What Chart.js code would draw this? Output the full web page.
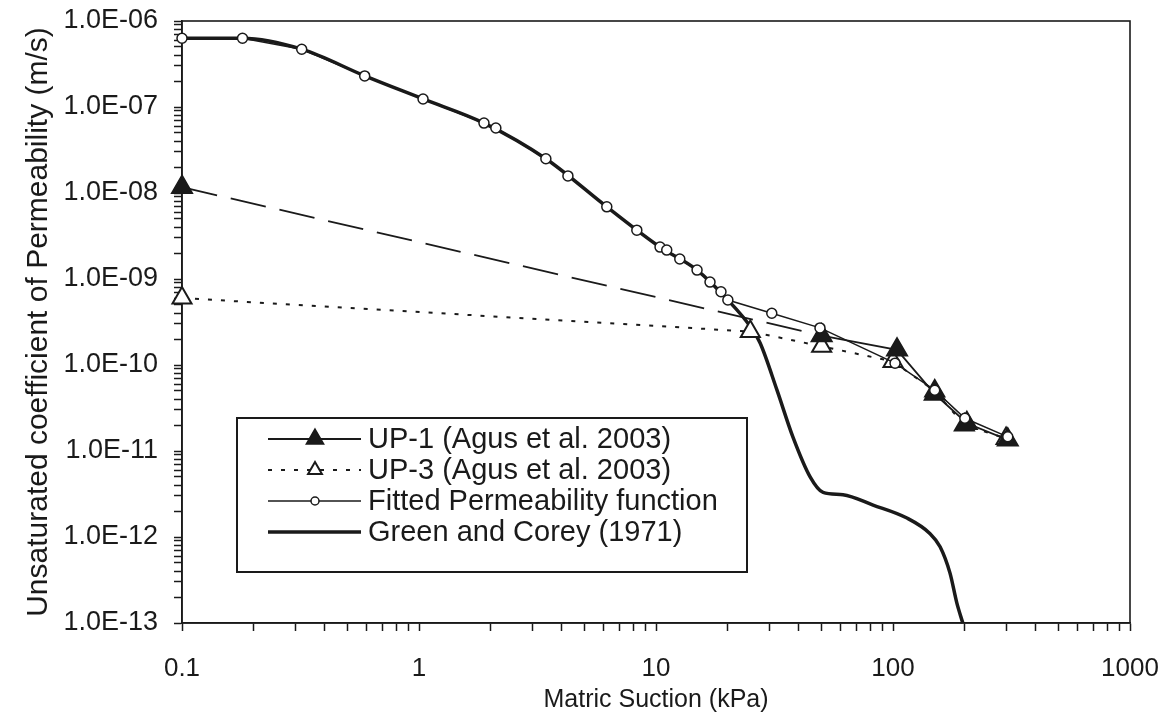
<!DOCTYPE html>
<html lang="en">
<head>
<meta charset="UTF-8">
<title>Unsaturated coefficient of permeability</title>
<script src="https://cdn.jsdelivr.net/npm/chart.js@4.4.0/dist/chart.umd.min.js"></script>
<style>
    body { margin: 0; background: #fff; }
    #wrap { width: 1169px; height: 720px; }
</style>
</head>
<body>
<div id="wrap"><canvas id="myChart"></canvas></div>
<script>
// values: suction in kPa, permeability in m/s
let up1Suction = [0.1, 50, 104, 150, 205, 305]
let up1Perm = [1.17e-8, 2.2e-10, 1.5e-10, 4.6e-11, 2.1e-11, 1.35e-11]

let up3Suction = [0.1, 25, 50, 100, 150, 200, 300]
let up3Perm = [6.0e-10, 2.45e-10, 1.65e-10, 1.1e-10, 5.0e-11, 2.0e-11, 1.4e-11]

let fitSuction = [0.1, 0.18, 0.32, 0.59, 1.04, 1.88, 2.11, 3.43, 4.25, 6.2, 8.3, 10.4, 11.1, 12.6, 14.9, 16.9, 18.8, 20.1, 30.8, 49.2, 102, 150, 201, 305]
let fitPerm = [6.3e-7, 6.3e-7, 4.7e-7, 2.3e-7, 1.24e-7, 6.5e-8, 5.7e-8, 2.5e-8, 1.58e-8, 6.9e-9, 3.7e-9, 2.35e-9, 2.17e-9, 1.71e-9, 1.27e-9, 9.2e-10, 7.1e-10, 5.7e-10, 4.0e-10, 2.7e-10, 1.05e-10, 5.1e-11, 2.4e-11, 1.46e-11]

let gcSuction = [0.1, 0.18, 0.32, 0.59, 1.04, 1.88, 3.43, 6.2, 10.4, 14.9, 20.1, 25, 27.5, 32.4, 37.8, 44.7, 50.7, 61.5, 82.4, 114.5, 143, 158, 174, 186, 197]
let gcPerm = [6.3e-7, 6.3e-7, 4.7e-7, 2.3e-7, 1.24e-7, 6.5e-8, 2.5e-8, 6.9e-9, 2.35e-9, 1.27e-9, 5.7e-10, 2.8e-10, 1.8e-10, 5.1e-11, 1.46e-11, 5.0e-12, 3.3e-12, 3.1e-12, 2.35e-12, 1.66e-12, 1.1e-12, 7.7e-13, 3.8e-13, 1.7e-13, 1.0e-13]

let xTickLabels = ['0.1', '1', '10', '100', '1000']
let yTickLabels = ['1.0E-13', '1.0E-12', '1.0E-11', '1.0E-10', '1.0E-09', '1.0E-08', '1.0E-07', '1.0E-06']

const ink = '#1a1a1a'
const fontFamily = '"Liberation Sans", Arial, sans-serif'

function pairs(xs, ys) {
    return xs.map((x, i) => ({ x: x, y: ys[i] }))
}

// 1..9 x 10^n ticks for every decade between min and max
function logTicks(min, max) {
    let ticks = []
    for (let e = Math.round(Math.log10(min)); e < Math.round(Math.log10(max)); e++) {
        for (let k = 1; k <= 9; k++) {
            ticks.push({ value: Number((k * Math.pow(10, e)).toPrecision(10)) })
        }
    }
    ticks.push({ value: max })
    return ticks
}

function decadeLabel(labels, min) {
    return function (value) {
        let lg = Math.log10(value)
        if (Math.abs(lg - Math.round(lg)) > 1e-6) return ''
        return labels[Math.round(lg) - Math.round(Math.log10(min))]
    }
}

function drawMarker(ctx, style, x, y, r) {
    ctx.beginPath()
    if (style === 'triangle') {
        ctx.moveTo(x, y - r)
        ctx.lineTo(x + r * 0.866, y + r * 0.5)
        ctx.lineTo(x - r * 0.866, y + r * 0.5)
        ctx.closePath()
    } else {
        ctx.arc(x, y, r, 0, Math.PI * 2)
    }
    ctx.fill()
    ctx.stroke()
}

const frame = {
    id: 'frame',
    beforeDatasetsDraw(chart) {
        let { ctx, chartArea: a } = chart
        ctx.save()
        ctx.strokeStyle = ink
        ctx.lineWidth = 1.6
        ctx.strokeRect(a.left, a.top, a.right - a.left, a.bottom - a.top)
        ctx.restore()
    }
}

// legend box inside the plot: line sample, marker, label
const boxLegend = {
    id: 'boxLegend',
    afterDraw(chart) {
        let ctx = chart.ctx
        ctx.save()
        ctx.fillStyle = '#fff'
        ctx.fillRect(237, 418, 510, 154)
        ctx.strokeStyle = ink
        ctx.lineWidth = 2
        ctx.strokeRect(237, 418, 510, 154)
        ctx.font = '29px ' + fontFamily
        ctx.textBaseline = 'middle'
        chart.data.datasets.forEach((ds, i) => {
            let y = 439 + i * 31
            ctx.strokeStyle = ink
            ctx.lineWidth = ds.legendWidth
            ctx.setLineDash(ds.borderDash || [])
            ctx.beginPath()
            ctx.moveTo(268, y)
            ctx.lineTo(361, y)
            ctx.stroke()
            ctx.setLineDash([])
            if (ds.pointRadius > 0) {
                ctx.fillStyle = ds.pointBackgroundColor
                ctx.strokeStyle = ds.pointBorderColor
                ctx.lineWidth = ds.pointBorderWidth
                drawMarker(ctx, ds.pointStyle, 315, y, ds.legendRadius)
            }
            ctx.fillStyle = ink
            ctx.fillText(ds.label, 368, y + 1)
        })
        ctx.restore()
    }
}

let ctx = document.getElementById('myChart').getContext('2d')
let chart = new Chart(ctx, {
    type: 'line',
    data: {
        datasets: [{
            label: 'UP-1 (Agus et al. 2003)',
            data: pairs(up1Suction, up1Perm),
            borderColor: ink,
            borderWidth: 1.8,
            segment: { borderDash: c => c.p0DataIndex === 0 ? [36, 14] : undefined },
            pointStyle: 'triangle',
            pointRadius: 12,
            pointBackgroundColor: ink,
            pointBorderColor: ink,
            pointBorderWidth: 1.5,
            legendRadius: 10,
            legendWidth: 1.8,
            order: 1,
            clip: false
        }, {
            label: 'UP-3 (Agus et al. 2003)',
            data: pairs(up3Suction, up3Perm),
            borderColor: ink,
            borderWidth: 2,
            borderDash: [4, 9],
            pointStyle: 'triangle',
            pointRadius: 11,
            pointBackgroundColor: '#fff',
            pointBorderColor: ink,
            pointBorderWidth: 2,
            legendRadius: 8,
            legendWidth: 1.8,
            order: 2,
            clip: false
        }, {
            label: 'Fitted Permeability function',
            data: pairs(fitSuction, fitPerm),
            borderColor: ink,
            borderWidth: 1.5,
            pointStyle: 'circle',
            pointRadius: 5,
            pointBackgroundColor: '#fff',
            pointBorderColor: ink,
            pointBorderWidth: 1.5,
            legendRadius: 4,
            legendWidth: 1.5,
            order: 0,
            clip: false
        }, {
            label: 'Green and Corey (1971)',
            data: pairs(gcSuction, gcPerm),
            borderColor: ink,
            borderWidth: 3.5,
            cubicInterpolationMode: 'monotone',
            pointRadius: 0,
            legendWidth: 3.5,
            order: 3,
            clip: false
        }]
    },
    options: {
        responsive: true,
        maintainAspectRatio: false,
        animation: false,
        layout: { padding: { top: 21, right: 39, left: 0, bottom: 0 } },
        plugins: {
            legend: { display: false },
            tooltip: { enabled: false }
        },
        scales: {
            x: {
                type: 'logarithmic',
                min: 0.1,
                max: 1000,
                afterBuildTicks: axis => { axis.ticks = logTicks(0.1, 1000) },
                afterFit: axis => {
                    axis.height = 97
                    axis.paddingLeft = 0
                    axis.paddingRight = 0
                },
                grid: { drawOnChartArea: false, drawTicks: true, tickLength: 8, color: ink, tickWidth: 1.5 },
                border: { display: true, color: ink, width: 1.6 },
                ticks: {
                    autoSkip: false,
                    maxRotation: 0,
                    padding: 22,
                    color: ink,
                    font: { family: fontFamily, size: 26 },
                    callback: decadeLabel(xTickLabels, 0.1)
                },
                title: {
                    display: true,
                    text: 'Matric Suction (kPa)',
                    color: ink,
                    font: { family: fontFamily, size: 25 },
                    padding: { top: 0, bottom: 5 }
                }
            },
            y: {
                type: 'logarithmic',
                min: 1e-13,
                max: 1e-6,
                afterBuildTicks: axis => { axis.ticks = logTicks(1e-13, 1e-6) },
                afterFit: axis => {
                    axis.width = 182
                    axis.paddingTop = 0
                    axis.paddingBottom = 0
                },
                grid: { drawOnChartArea: false, drawTicks: true, tickLength: 8, color: ink, tickWidth: 1.5 },
                border: { display: true, color: ink, width: 1.6 },
                ticks: {
                    autoSkip: false,
                    padding: 16,
                    color: ink,
                    font: { family: fontFamily, size: 27 },
                    callback: decadeLabel(yTickLabels, 1e-13)
                },
                title: {
                    display: true,
                    text: 'Unsaturated coefficient of Permeability (m/s)',
                    color: ink,
                    font: { family: fontFamily, size: 30 },
                    padding: { top: 21, bottom: 0 }
                }
            }
        }
    },
    plugins: [frame, boxLegend]
})
</script>
</body>
</html>
